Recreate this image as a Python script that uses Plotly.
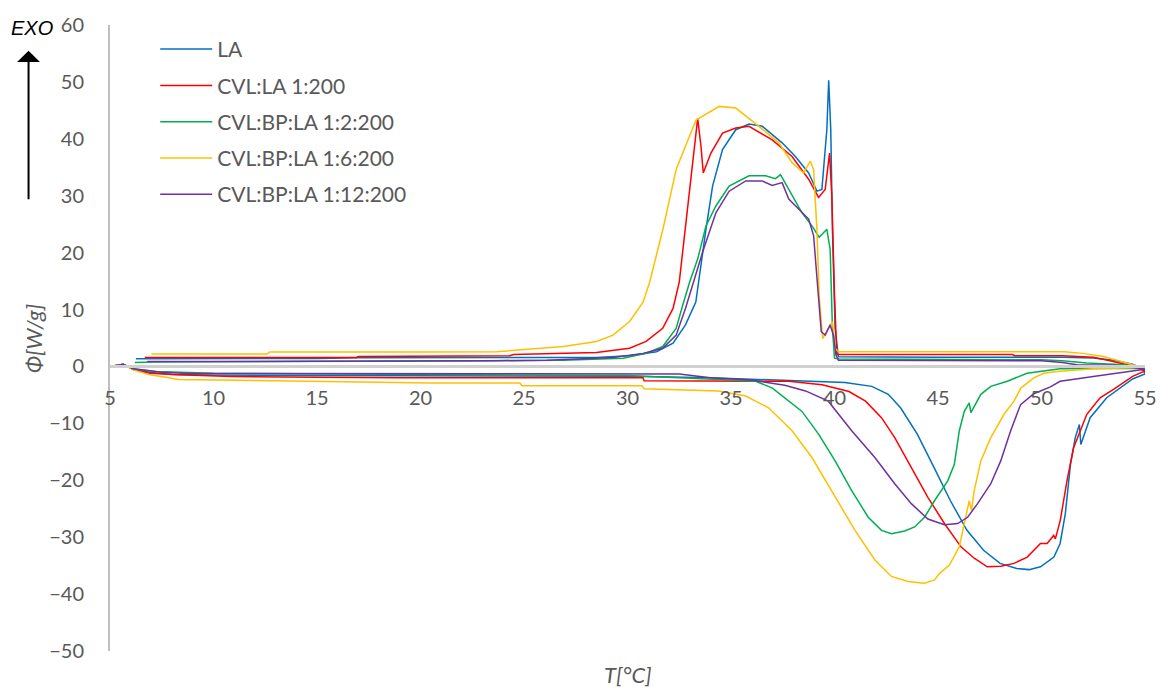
import plotly.graph_objects as go

# ---- data ----
series_names = ["LA", "CVL:LA 1:200", "CVL:BP:LA 1:2:200", "CVL:BP:LA 1:6:200", "CVL:BP:LA 1:12:200"]
series_colors = ["#0070C0", "#FF0000", "#00B050", "#FFC000", "#7030A0"]

la_x = [5.0, 5.64, 6.1, 6.9, 8.0, 10.0, 15, 20, 25, 30, 34, 36.2, 38.4, 40.5, 41.8, 42.6, 43.2, 44.0, 44.8, 45.6,
        46.4, 47.2, 48.0, 48.8, 49.4, 49.95, 50.6, 50.9, 51.15, 51.4, 51.63, 51.83, 51.9, 52.35, 53.15, 53.9, 54.4, 55.0,
        54.9, 54.4, 53.5, 52.5, 51, 45, 40.19, 40.03, 39.9, 39.82, 39.72, 39.63, 39.39, 39.15, 38.75, 38.11, 37.47,
        36.51, 35.87, 35.23, 34.59, 34.11, 33.79, 33.3, 32.8, 32.2, 31.4, 30.1, 28.5, 25, 20, 17, 15, 10, 6.25]
la_y = [0.0, 0.4, -0.5, -1.0, -1.4, -1.5, -1.6, -1.6, -1.7, -1.7, -2.0, -2.3, -2.6, -2.8, -3.5, -4.9, -7.3, -11.9, -17.7,
        -23.6, -28.8, -32.3, -34.6, -35.5, -35.7, -35.2, -33.5, -31.1, -25.9, -17.2, -12.5, -10.2, -13.7, -9.0, -5.5,
        -3.5, -2.2, -1.3,
        -0.4, 0.4, 1.1, 1.5, 1.6, 1.6, 1.7, 6.7, 24.1, 41.6, 50.3, 41.6, 31.1, 30.8, 34.0, 36.9, 39.3,
        42.2, 42.6, 41.6, 38.1, 31.7, 24.1, 11.3, 7.3, 4.1, 2.6, 1.9, 1.57, 1.57, 1.57, 1.55, 1.4, 1.35, 1.34]

cvl_x = [5.0, 5.64, 6.1, 6.9, 8.3, 10.9, 15, 18.9, 25, 30.75, 30.8, 34, 37.8, 39.4, 40.7, 41.5, 42.27, 42.91, 43.71,
         44.51, 45.31, 46.11, 46.75, 47.38, 48.03, 48.67, 49.31, 49.95, 50.27, 50.59, 50.67, 50.91, 51.23, 51.55,
         52.19, 52.83, 53.5, 54.4, 55.0,
         54.5, 53.3, 52.5, 51, 48.7, 48.6, 40.11, 40.0, 39.87, 39.76, 39.55, 39.23, 38.75, 37.95, 36.99, 35.87,
         35.23, 34.59, 34.03, 33.66, 33.55, 33.39, 33.15, 32.91, 32.5, 32.2, 31.7, 30.9, 30.1, 28.5, 26, 24.5,
         24.3, 17, 16.9, 6.68]
cvl_y = [0.0, 0.4, -0.5, -1.2, -1.45, -1.75, -1.9, -2.0, -2.0, -2.0, -2.5, -2.5, -2.6, -3.2, -4.4, -6.1, -9.0, -12.5,
         -17.7, -23.0, -27.6, -31.7, -33.7, -35.2, -35.1, -34.6, -33.5, -31.1, -31.1, -29.7, -30.3, -27.0, -20.1,
         -14.3, -8.4, -5.5, -4.0, -1.75, -0.8,
         0.0, 1.0, 1.6, 1.9, 1.9, 2.1, 2.1, 12.5, 30.0, 37.5, 31.1, 29.7, 32.9, 36.9, 39.8, 42.2,
         41.9, 41.0, 37.5, 34.0, 38.7, 43.6, 35.8, 27.0, 14.8, 10.2, 6.7, 4.4, 3.2, 2.45, 2.15, 2.1,
         1.9, 1.75, 1.57, 1.57]

bp2_x = [5.0, 5.64, 6.1, 7.2, 10, 15, 20, 25, 30, 34.43, 36.2, 37.0, 37.8, 38.43, 39.23, 40.03, 40.83, 41.63, 42.27,
         42.75, 43.39, 43.87, 44.35, 44.83, 45.47, 45.79, 46.03, 46.27, 46.51, 46.59, 47.07, 47.55, 48.35, 49.3,
         50.9, 53, 55,
         54.9, 54.0, 52.2, 51, 50, 45, 40.2, 40.0, 39.9, 39.79, 39.63, 39.26, 38.91, 38.43, 37.79, 37.39, 37.15,
         36.67, 35.87, 34.91, 34.27, 33.95, 33.79, 33.4, 33.0, 32.67, 32.35, 31.7, 30.9, 29.8, 26.9, 23, 20, 17,
         7.1, 6.2]
bp2_y = [0.0, 0.4, -0.4, -0.9, -1.2, -1.3, -1.4, -1.5, -1.6, -2.3, -2.6, -3.8, -6.1, -7.9, -11.9, -16.6, -21.8, -26.5,
         -28.8, -29.4, -28.9, -28.2, -26.5, -23.6, -20.1, -17.2, -11.3, -7.9, -6.4, -8.1, -4.9, -3.5, -2.6, -1.2,
         -0.4, -0.3, -0.3,
         -0.4, 0.3, 0.6, 1.0, 1.17, 1.2, 1.3, 1.45, 6.7, 20.6, 24.1, 22.7, 24.7, 27.0, 31.1, 33.7, 33.0,
         33.5, 33.5, 31.7, 28.2, 25.9, 24.7, 19.0, 14.8, 10.8, 6.7, 3.5, 2.3, 1.45, 1.1, 1.0, 1.0, 0.9,
         0.8, 0.7]

bp6_x = [5.0, 5.64, 6.12, 6.92, 7.72, 8.28, 12.84, 20.5, 24.8, 24.9, 30.7, 30.8, 34.4, 35.71, 36.83, 37.95, 38.91,
         40.03, 40.99, 41.95, 42.75, 43.55, 44.35, 44.83, 45.07, 45.55, 46.03, 46.27, 46.43, 46.51, 46.62, 46.75,
         47.07, 47.55, 48.19, 48.67, 49.0, 49.63, 50.1, 50.74, 52.5, 55,
         54.4, 53.0, 52, 51.1, 45, 40.19, 40.03, 39.9, 39.7, 39.43, 39.26, 39.15, 38.99, 38.83, 38.51, 37.95,
         37.31, 36.35, 35.23, 34.43, 33.31, 32.35, 31.71, 31.07, 30.75, 30.1, 29.3, 28.5, 26.9, 25.3, 23.7, 20,
         12.7, 12.6, 7.0]
bp6_y = [0.0, 0.4, -0.6, -1.45, -1.9, -2.3, -2.5, -2.9, -2.9, -3.4, -3.4, -3.9, -4.3, -5.2, -7.3, -11.3, -16.0,
         -23.0, -28.8, -34.0, -36.9, -37.8, -38.1, -37.5, -36.4, -34.9, -31.7, -27.6, -24.7, -23.6, -25.3, -21.8,
         -16.6, -12.5, -8.4, -6.1, -3.8, -2.0, -1.2, -0.9, -0.4, -0.2,
         0.3, 1.75, 2.3, 2.6, 2.6, 2.6, 3.2, 7.9, 6.7, 4.9, 12.5, 24.1, 34.6, 36.1, 34.0, 35.8,
         39.3, 42.2, 45.4, 45.7, 43.3, 34.6, 24.1, 14.8, 11.3, 7.9, 5.5, 4.4, 3.5, 3.0, 2.6, 2.55,
         2.55, 2.2, 2.2]

bp12_x = [5.0, 5.64, 6.1, 7.5, 8.5, 15, 20, 25, 32.5, 34, 36.0, 37.6, 38.6, 39.7, 40.83, 41.95, 42.91, 43.71, 44.51,
          45.31, 45.95, 46.43, 46.91, 47.55, 48.03, 48.51, 48.99, 49.63, 50.43, 50.9, 52.5, 54.1, 55,
          54.9, 53.5, 51.7, 51, 50, 45, 40.19, 40.07, 39.95, 39.79, 39.55, 39.36, 39.15, 38.99, 38.75, 38.11,
          37.79, 37.47, 36.99, 36.51, 35.71, 34.91, 34.27, 33.63, 33.2, 32.8, 32.35, 31.7, 30.75, 29.3, 26.1,
          23.7, 15, 6.8]
bp12_y = [0.0, 0.4, -0.4, -1.0, -1.2, -1.2, -1.25, -1.3, -1.34, -2.0, -2.4, -3.3, -4.3, -6.1, -11.3, -16.0, -20.6,
          -24.1, -26.8, -27.8, -27.6, -26.5, -24.1, -20.6, -16.6, -11.3, -6.7, -4.8, -3.6, -2.6, -1.75, -0.9, -0.5,
          -0.4, 0.2, 0.3, 0.7, 1.0, 1.05, 1.1, 2.0, 5.5, 7.3, 5.5, 6.1, 15.4, 23.0, 25.9, 28.2,
          29.4, 32.3, 31.8, 32.6, 32.6, 30.8, 27.0, 20.1, 14.8, 10.2, 5.5, 3.2, 2.3, 1.57, 1.1,
          1.0, 0.9, 0.87]

x_ticks = [5, 10, 15, 20, 25, 30, 35, 40, 45, 50, 55]
y_ticks = [-50, -40, -30, -20, -10, 0, 10, 20, 30, 40, 50, 60]
x_title = "T[°C]"
y_title = "Φ[W/g]"

xs = [la_x, cvl_x, bp2_x, bp6_x, bp12_x]
ys = [la_y, cvl_y, bp2_y, bp6_y, bp12_y]

fig = go.Figure()
for i, (name, col, x, y) in enumerate(zip(series_names, series_colors, xs, ys)):
    fig.add_trace(go.Scatter(x=x, y=y, mode="lines", name=name, legendgroup=f"g{i}",
                             line=dict(color=col, width=1.5)))

gray = "#595959"
YMIN, YMAX = -50, 60
fig.update_layout(
    width=1169, height=690,
    margin=dict(l=110, r=17, t=18, b=39),
    paper_bgcolor="white", plot_bgcolor="white",
    font=dict(family="Lato", size=20, color=gray),
    showlegend=True,
    legend=dict(x=0.0437, y=0.9937, xanchor="left", yanchor="top", bgcolor="rgba(0,0,0,0)",
                font=dict(family="Lato", size=21, color=gray), tracegroupgap=6,
                traceorder="grouped", itemwidth=52),
    xaxis=dict(range=[5, 55], tickvals=x_ticks, showgrid=False, zeroline=False,
               showline=True, linecolor="#D0D0D0", linewidth=3,
               anchor="free", position=(0 - YMIN) / (YMAX - YMIN),
               ticks="", ticklabelstandoff=13, tickfont=dict(size=20, color=gray)),
    yaxis=dict(range=[YMIN, YMAX], tickvals=y_ticks, showgrid=False, zeroline=False,
               showline=True, linecolor="#BFBFBF", linewidth=2,
               ticks="", ticklabelstandoff=20, tickfont=dict(size=20, color=gray)),
)

fig.add_annotation(text=f"<i>{x_title}</i>", xref="paper", yref="paper", x=0.5, y=-0.038,
                   xanchor="center", yanchor="middle", showarrow=False,
                   font=dict(family="Lato", size=22, color=gray))
fig.add_annotation(text=f"<i>{y_title}</i>", xref="paper", yref="paper", x=-0.0745, y=0.5,
                   xanchor="center", yanchor="middle", showarrow=False, textangle=-90,
                   font=dict(family="Lato", size=22, color=gray))
fig.add_annotation(text="<i>EXO</i>", xref="paper", yref="paper", x=-0.0758, y=0.995,
                   xanchor="center", yanchor="middle", showarrow=False,
                   font=dict(family="Liberation Sans", size=20, color="black"))
fig.add_annotation(text="", xref="paper", yref="paper", x=-0.0787, y=0.959,
                   ax=0, ay=150, showarrow=True, arrowhead=1, arrowsize=1.9,
                   arrowwidth=2, arrowcolor="black")

fig.write_html("out.html")
